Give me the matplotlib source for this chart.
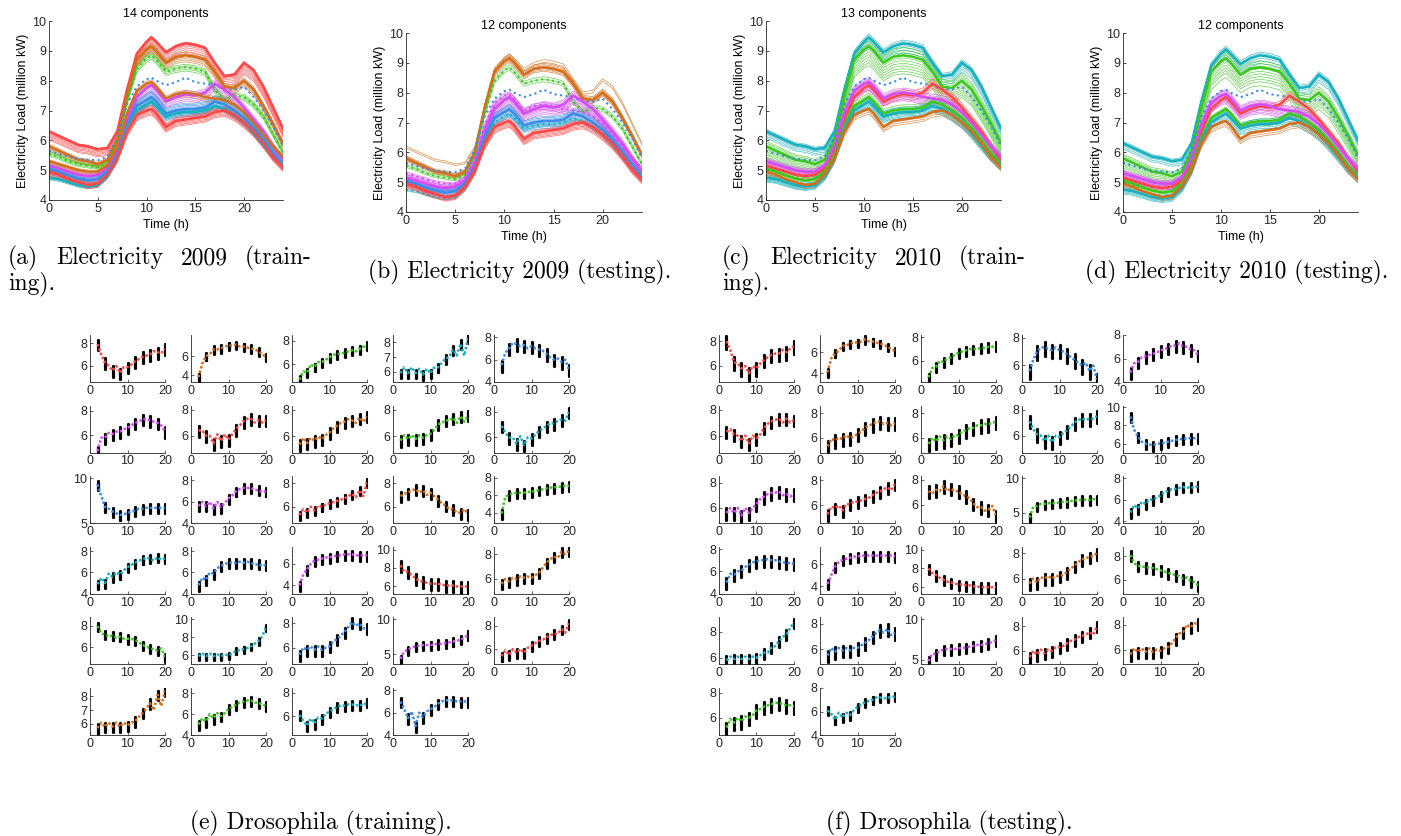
import matplotlib
matplotlib.use("Agg")
import matplotlib.pyplot as plt

plt.rcParams.update({
    "font.family": ["Liberation Sans", "DejaVu Sans"],
    "axes.linewidth": 0.6,
    "axes.spines.top": False,
    "axes.spines.right": False,
    "axes.edgecolor": "#262626",
    "xtick.color": "#262626",
    "ytick.color": "#262626",
    "xtick.direction": "in",
    "ytick.direction": "in",
})

W, H = 1401, 836

COLORS = {"red": "#FF4747", "orange": "#D2701E", "green": "#3CC71E",
          "blue": "#3A8DE6", "magenta": "#D64CF4", "cyan": "#19B0BF"}

# ---------------- electricity load profiles (million kW) ----------------
HOURS = [0, 1, 2, 3, 4, 5, 6, 7, 8, 9, 10, 10.5, 11, 12, 13, 14, 15, 16, 17, 18, 19, 20, 21, 22, 23, 24]

P_TOP = [6.3, 6.15, 6.0, 5.85, 5.8, 5.7, 5.75, 6.3, 7.7, 8.9, 9.3, 9.45, 9.3, 8.95, 9.15, 9.25, 9.2, 9.1,
         8.6, 8.15, 8.2, 8.6, 8.35, 7.8, 7.1, 6.4]
P_HIGH = [5.8, 5.65, 5.5, 5.35, 5.3, 5.2, 5.35, 6.0, 7.5, 8.7, 9.05, 9.15, 9.0, 8.6, 8.8, 8.85, 8.8, 8.7,
          8.3, 7.8, 7.75, 8.0, 7.7, 7.15, 6.55, 5.9]
P_GREEN = [5.55, 5.45, 5.3, 5.2, 5.15, 5.1, 5.25, 5.9, 7.3, 8.4, 8.75, 8.85, 8.7, 8.3, 8.4, 8.45, 8.4, 8.3,
           7.7, 7.35, 7.5, 7.45, 7.2, 6.8, 6.2, 5.6]
P_MEAN = [5.65, 5.55, 5.45, 5.38, 5.35, 5.33, 5.45, 6.1, 7.2, 7.8, 8.05, 8.1, 8.0, 7.85, 7.95, 8.1, 7.95,
          7.9, 7.85, 7.7, 7.7, 7.8, 7.45, 7.0, 6.45, 5.8]
P_MAG = [5.15, 5.05, 4.95, 4.85, 4.8, 4.85, 5.05, 5.6, 6.7, 7.45, 7.75, 7.85, 7.7, 7.3, 7.45, 7.55, 7.5,
         7.6, 7.9, 7.7, 7.45, 7.1, 6.7, 6.3, 5.8, 5.35]
P_MID = [5.3, 5.2, 5.1, 5.0, 4.95, 4.95, 5.15, 5.8, 6.9, 7.65, 7.9, 7.95, 7.8, 7.4, 7.55, 7.6, 7.55, 7.45,
         7.4, 7.35, 7.2, 6.95, 6.6, 6.2, 5.8, 5.45]
P_LOW = [5.05, 4.95, 4.82, 4.72, 4.65, 4.7, 4.95, 5.5, 6.5, 7.15, 7.35, 7.45, 7.3, 6.9, 7.0, 7.05, 7.05,
         7.1, 7.3, 7.2, 7.0, 6.75, 6.4, 6.0, 5.55, 5.2]
P_TEAL = [4.75, 4.7, 4.6, 4.5, 4.45, 4.5, 4.8, 5.4, 6.4, 7.0, 7.2, 7.3, 7.15, 6.8, 6.9, 6.95, 6.95, 7.0,
          7.15, 7.05, 6.85, 6.6, 6.25, 5.85, 5.45, 5.15]
P_BOTTOM = [4.95, 4.85, 4.7, 4.6, 4.5, 4.55, 4.85, 5.4, 6.3, 6.85, 7.0, 7.05, 6.9, 6.45, 6.65, 6.7, 6.75,
            6.8, 6.95, 7.0, 6.85, 6.6, 6.3, 5.9, 5.45, 5.1]

# per panel: cluster profiles, cluster colours, member scale factors
A_PROFILES = [P_TOP, P_HIGH, P_GREEN, P_MEAN, P_MAG, P_MID, P_LOW, P_TEAL, P_BOTTOM]
A_COLORS = ["red", "orange", "green", "blue", "magenta", "orange", "blue", "cyan", "red"]
A_SCALES = [[0.955, 0.962, 0.97, 0.977, 0.984, 0.99, 0.995, 1.0, 1.005],
            [0.975, 0.982, 0.988, 0.994, 1.0, 1.006, 1.012],
            [0.985, 0.992, 1.0, 1.006, 1.012],
            [],
            [0.97, 0.978, 0.986, 0.994, 1.0, 1.008, 1.016],
            [0.982, 0.99, 1.0, 1.01],
            [0.965, 0.972, 0.978, 0.984, 0.99, 0.995, 1.0, 1.005, 1.01, 1.016, 1.022, 1.028],
            [0.985, 0.992, 1.0, 1.008],
            [0.972, 0.978, 0.984, 0.99, 0.995, 1.0, 1.006, 1.012, 1.018]]

B_PROFILES = [P_TOP, P_HIGH, P_GREEN, P_MEAN, P_MAG, P_MID, P_LOW, P_TEAL, P_BOTTOM]
B_COLORS = ["orange", "orange", "green", "blue", "magenta", "magenta", "blue", "cyan", "red"]
B_SCALES = [[0.975, 0.985],
            [0.985, 0.99, 0.995, 1.0, 1.005, 1.01, 1.015],
            [0.99, 1.0, 1.01],
            [],
            [0.965, 0.972, 0.98, 0.986, 0.992, 1.0, 1.006, 1.012, 1.02],
            [0.98, 0.99, 1.0, 1.01],
            [0.965, 0.972, 0.978, 0.984, 0.99, 0.995, 1.0, 1.005, 1.01, 1.016, 1.022],
            [0.99, 1.0],
            [0.97, 0.976, 0.982, 0.988, 0.994, 1.0, 1.006, 1.012]]

C_PROFILES = [P_TOP, P_HIGH, P_MEAN, P_MAG, P_MID, P_LOW, P_TEAL, P_BOTTOM]
C_COLORS = ["cyan", "green", "blue", "red", "magenta", "green", "cyan", "orange"]
C_SCALES = [[0.965, 0.975, 0.985, 0.992, 1.0, 1.006, 1.012],
            [0.93, 0.94, 0.95, 0.96, 0.97, 0.98, 0.99, 1.0, 1.01, 1.02, 1.03],
            [],
            [0.98, 0.99, 1.0, 1.01, 1.02],
            [0.965, 0.972, 0.98, 0.986, 0.992, 1.0, 1.006, 1.012, 1.02],
            [0.98, 0.99, 1.0, 1.01, 1.02],
            [0.97, 0.976, 0.982, 0.988, 0.994, 1.0, 1.006, 1.012, 1.018, 1.024],
            [0.975, 0.985, 0.995, 1.005]]

D_PROFILES = [P_TOP, P_HIGH, P_MEAN, P_MAG, P_MID, P_LOW, P_TEAL, P_BOTTOM]
D_COLORS = ["cyan", "green", "blue", "red", "magenta", "green", "cyan", "orange"]
D_SCALES = [[0.97, 0.98, 0.99, 1.0, 1.006, 1.012],
            [0.93, 0.945, 0.955, 0.965, 0.975, 0.985, 0.995, 1.005, 1.015, 1.025],
            [],
            [0.985, 0.995, 1.005, 1.015],
            [0.96, 0.967, 0.974, 0.98, 0.986, 0.992, 0.997, 1.0, 1.004, 1.008, 1.014, 1.02],
            [0.98, 0.99, 1.0, 1.01],
            [0.97, 0.978, 0.986, 0.994, 1.0, 1.008, 1.016, 1.024],
            [0.975, 0.985, 0.995, 1.005]]

A_MEAN_STYLE = ["-", "-", ":", ":", "-", "-", "-", "-", "-"]
B_MEAN_STYLE = [None, "-", ":", ":", "-", ":", "-", ":", "-"]
C_MEAN_STYLE = ["-", "-", ":", "-", "-", "-", "-", "-"]
D_MEAN_STYLE = ["-", "-", ":", "-", "-", "-", "-", "-"]

# ---------------- drosophila expression panels ----------------
FLY_T = list(range(2, 21))
FLY_T_EVEN = list(range(2, 21, 2))
COLUMN_OFFSETS = [-1.0, -0.82, -0.66, -0.5, -0.36, -0.22, -0.1, 0.02, 0.15, 0.3, 0.48, 0.68]

E_COLOR = ["red", "orange", "green", "cyan", "blue",
           "magenta", "red", "orange", "green", "cyan",
           "blue", "magenta", "red", "orange", "green",
           "cyan", "blue", "magenta", "red", "orange",
           "green", "cyan", "blue", "magenta", "red",
           "orange", "green", "cyan", "blue"]
E_FIT = [
    [7.9, 7.0, 6.3, 6.0, 5.6, 6.0, 5.4, 5.9, 5.9, 6.1, 6.4, 6.6, 6.8, 6.9, 7.0, 7.3, 7.2, 7.1, 7.5],
    [3.8, 5.2, 6.0, 6.2, 6.7, 6.7, 6.8, 7.0, 7.1, 7.1, 7.2, 7.0, 7.0, 6.9, 6.8, 6.7, 6.5, 6.2, 5.9],
    [4.7, 5.4, 5.3, 6.0, 5.8, 6.2, 6.2, 6.4, 6.6, 6.8, 6.9, 6.9, 7.0, 7.1, 7.2, 7.1, 7.3, 7.5, 7.6],
    [5.9, 6.3, 5.9, 6.3, 5.9, 6.2, 5.8, 6.2, 5.9, 6.3, 6.3, 6.6, 6.9, 7.0, 7.5, 7.1, 7.9, 7.1, 8.3],
    [5.5, 6.6, 7.0, 7.5, 7.4, 7.2, 7.3, 7.0, 7.2, 7.0, 6.9, 6.8, 6.5, 6.2, 6.0, 6.1, 5.8, 6.0, 5.1],
    [4.7, 5.8, 5.8, 6.2, 6.1, 6.3, 6.3, 6.5, 6.6, 6.8, 7.0, 7.1, 7.3, 7.3, 7.2, 7.1, 7.0, 6.8, 6.3],
    [6.4, 6.4, 6.0, 6.0, 5.4, 6.1, 5.6, 6.1, 5.7, 6.1, 6.5, 6.8, 7.1, 7.3, 7.3, 7.0, 7.2, 7.0, 7.2],
    [5.4, 5.9, 5.5, 5.9, 5.7, 6.0, 5.8, 6.1, 6.3, 6.6, 6.8, 7.0, 7.1, 7.3, 7.2, 7.0, 7.4, 7.1, 7.5],
    [5.7, 6.1, 5.8, 6.1, 5.8, 6.1, 5.9, 6.1, 6.2, 6.5, 6.9, 7.0, 7.2, 7.2, 7.4, 7.0, 7.5, 7.1, 7.6],
    [6.9, 6.4, 6.0, 6.0, 5.5, 6.1, 5.4, 6.0, 5.9, 6.2, 6.5, 6.7, 6.9, 7.1, 7.1, 7.3, 7.4, 7.3, 8.0],
    [9.3, 8.0, 6.8, 6.6, 6.3, 6.1, 5.9, 6.0, 6.1, 6.3, 6.4, 6.6, 6.6, 6.7, 6.7, 6.7, 6.7, 6.7, 6.7],
    [5.6, 6.0, 5.6, 6.0, 5.4, 6.0, 5.5, 5.9, 6.3, 6.6, 7.0, 7.2, 7.3, 7.3, 7.3, 7.1, 7.1, 6.9, 7.0],
    [5.3, 5.8, 5.5, 6.0, 5.7, 6.1, 6.0, 6.2, 6.3, 6.4, 6.5, 6.6, 6.7, 6.9, 7.1, 6.8, 7.4, 6.9, 8.1],
    [6.9, 7.1, 7.2, 7.4, 7.5, 7.2, 7.4, 7.0, 7.2, 6.9, 6.6, 6.3, 6.1, 5.8, 5.8, 5.5, 5.5, 5.8, 5.4],
    [3.9, 5.8, 6.1, 6.2, 6.3, 6.3, 6.3, 6.4, 6.4, 6.5, 6.6, 6.7, 6.8, 6.9, 6.9, 7.0, 7.0, 7.1, 7.1],
    [4.9, 5.5, 5.0, 5.9, 5.6, 6.0, 5.8, 6.2, 6.5, 6.7, 6.9, 7.1, 7.2, 7.4, 7.3, 7.1, 7.4, 7.2, 7.3],
    [4.8, 5.5, 5.3, 6.0, 5.9, 6.4, 6.6, 6.8, 6.9, 6.9, 6.9, 7.0, 6.9, 7.0, 6.9, 6.7, 6.8, 6.6, 6.7],
    [4.0, 5.0, 5.5, 6.0, 6.3, 6.4, 6.5, 6.6, 6.6, 6.7, 6.8, 6.8, 6.9, 6.9, 6.9, 6.8, 6.8, 6.8, 6.8],
    [8.3, 7.6, 7.6, 7.2, 6.9, 6.6, 6.5, 6.4, 6.3, 6.3, 6.3, 6.2, 6.1, 6.1, 6.1, 6.0, 6.0, 6.0, 6.0],
    [5.6, 6.0, 5.8, 6.1, 6.0, 6.2, 6.1, 6.2, 6.1, 6.3, 6.5, 6.9, 7.3, 7.6, 7.8, 7.7, 8.2, 8.0, 8.3],
    [8.0, 7.3, 7.2, 7.0, 7.1, 6.9, 7.0, 6.8, 6.8, 6.8, 6.7, 6.5, 6.2, 6.1, 5.9, 5.8, 5.7, 5.9, 5.1],
    [5.9, 6.2, 5.9, 6.2, 5.9, 6.1, 5.9, 6.1, 6.0, 6.2, 6.5, 6.6, 6.7, 6.8, 7.0, 7.3, 7.6, 8.1, 9.1],
    [5.4, 6.0, 5.8, 6.1, 5.8, 6.1, 5.8, 6.0, 6.1, 6.5, 6.7, 7.0, 7.3, 7.7, 8.1, 7.8, 8.0, 7.6, 7.6],
    [4.3, 5.4, 5.6, 6.0, 6.1, 6.2, 6.3, 6.3, 6.3, 6.4, 6.5, 6.5, 6.6, 6.7, 6.8, 6.9, 7.1, 7.3, 7.8],
    [5.4, 5.9, 5.5, 6.0, 5.7, 6.0, 5.7, 6.1, 6.3, 6.5, 6.7, 6.8, 7.0, 7.2, 7.3, 7.3, 7.7, 7.4, 8.2],
    [5.7, 6.1, 5.8, 6.1, 5.8, 6.1, 5.8, 6.1, 5.9, 6.1, 6.2, 6.5, 6.8, 7.1, 7.5, 7.0, 8.1, 7.3, 8.4],
    [5.0, 5.6, 5.3, 6.0, 5.6, 6.1, 5.8, 6.1, 6.5, 6.7, 6.9, 7.1, 7.2, 7.3, 7.3, 7.1, 7.1, 6.9, 6.8],
    [6.1, 5.6, 5.2, 5.8, 5.4, 5.9, 5.8, 6.2, 6.4, 6.6, 6.8, 6.9, 6.9, 7.0, 7.0, 6.9, 7.0, 6.9, 7.2],
    [7.0, 6.3, 5.5, 6.1, 4.8, 6.0, 5.6, 6.1, 6.3, 6.5, 6.8, 7.0, 7.1, 7.1, 7.1, 7.0, 7.0, 7.0, 7.0],
]
E_YLIM = [(4.6, 8.7), (3.3, 8.2), (4.5, 8.5), (5.3, 8.5), (4.0, 8.2),
          (4.6, 8.4), (4.7, 8.3), (4.8, 8.3), (4.8, 8.3), (4.8, 8.5),
          (5.0, 10.2), (4.0, 8.4), (4.6, 8.6), (4.6, 8.6), (2.8, 8.2),
          (4.0, 8.4), (4.0, 8.4), (3.2, 7.6), (5.2, 10.3), (4.8, 8.6),
          (4.4, 8.8), (5.0, 10.2), (4.6, 8.5), (3.5, 10.3), (4.7, 8.7),
          (5.2, 8.6), (4.0, 8.5), (4.4, 8.4), (4.0, 8.2)]
E_YTICKS = [[6, 8], [4, 6], [6, 8], [6, 7, 8], [4, 6, 8],
            [6, 8], [6, 8], [6, 8], [6, 8], [6, 8],
            [5, 10], [4, 6, 8], [6, 8], [6, 8], [4, 6, 8],
            [4, 6, 8], [4, 6, 8], [4, 6], [6, 8, 10], [6, 8],
            [6, 8], [6, 8, 10], [6, 8], [5, 10], [6, 8],
            [6, 7, 8], [4, 6, 8], [6, 8], [4, 6, 8]]
E_SPREAD = [0.55, 0.45, 0.4, 0.35, 0.6, 0.5, 0.5, 0.45, 0.45, 0.5,
            0.6, 0.5, 0.4, 0.5, 0.6, 0.45, 0.5, 0.5, 0.7, 0.45,
            0.45, 0.4, 0.5, 0.7, 0.45, 0.4, 0.5, 0.45, 0.5]

F_COLOR = ["red", "orange", "green", "blue", "magenta",
           "red", "orange", "green", "cyan", "blue",
           "magenta", "red", "orange", "green", "cyan",
           "blue", "magenta", "red", "orange", "green",
           "cyan", "blue", "magenta", "red", "orange",
           "green", "cyan"]
F_FIT = [
    [8.0, 7.3, 6.3, 6.2, 5.8, 6.0, 5.4, 6.0, 5.8, 6.2, 6.5, 6.7, 6.9, 7.0, 7.0, 7.3, 7.1, 7.4, 7.6],
    [4.1, 5.4, 5.9, 6.1, 6.6, 6.6, 6.8, 6.9, 6.9, 7.0, 7.2, 7.0, 7.0, 6.9, 6.8, 6.7, 6.5, 6.3, 6.1],
    [4.6, 5.4, 5.5, 6.0, 5.9, 6.2, 6.3, 6.5, 6.7, 6.8, 6.9, 7.0, 7.0, 7.0, 7.1, 7.1, 7.2, 7.2, 7.3],
    [5.6, 6.4, 7.0, 7.3, 7.3, 7.2, 7.1, 7.3, 7.1, 7.0, 6.8, 6.6, 6.4, 6.2, 6.0, 6.2, 5.6, 6.0, 5.0],
    [4.8, 5.6, 5.7, 6.1, 6.2, 6.3, 6.4, 6.5, 6.7, 6.8, 6.9, 7.1, 7.1, 7.3, 7.0, 7.0, 6.8, 6.7, 6.3],
    [6.3, 6.5, 6.1, 6.0, 5.6, 6.0, 5.4, 6.0, 5.8, 6.1, 6.6, 6.9, 7.1, 7.2, 7.3, 7.0, 7.3, 7.0, 7.2],
    [5.3, 5.9, 5.8, 6.0, 5.9, 6.2, 6.0, 6.1, 6.3, 6.5, 6.8, 7.0, 7.1, 7.3, 7.3, 7.1, 7.2, 7.0, 7.2],
    [5.5, 6.0, 5.7, 6.1, 5.8, 6.1, 5.9, 6.2, 6.2, 6.5, 6.6, 6.8, 6.8, 7.0, 7.0, 7.1, 7.1, 7.2, 7.3],
    [7.1, 6.5, 6.1, 6.0, 5.6, 6.0, 5.5, 6.0, 5.9, 6.2, 6.4, 6.7, 7.0, 7.2, 7.3, 7.2, 7.3, 7.3, 7.5],
    [9.0, 7.5, 6.8, 6.2, 6.0, 5.9, 5.8, 6.0, 6.0, 6.1, 6.2, 6.3, 6.4, 6.5, 6.5, 6.6, 6.6, 6.6, 6.7],
    [5.6, 6.0, 5.6, 6.0, 5.4, 6.0, 5.6, 6.0, 6.3, 6.7, 6.9, 7.1, 7.2, 7.2, 7.3, 7.0, 7.1, 6.9, 7.1],
    [5.3, 5.9, 5.8, 6.0, 5.6, 6.1, 6.1, 6.3, 6.3, 6.4, 6.5, 6.6, 6.8, 7.0, 7.1, 7.3, 7.4, 7.2, 7.7],
    [7.1, 6.9, 7.2, 7.1, 7.5, 7.1, 7.3, 7.1, 7.1, 6.8, 6.7, 6.5, 6.1, 5.8, 5.8, 5.5, 5.6, 5.9, 5.1],
    [4.3, 5.9, 6.0, 6.3, 6.3, 6.4, 6.4, 6.4, 6.5, 6.6, 6.6, 6.7, 6.8, 6.8, 6.9, 6.9, 6.9, 7.0, 7.0],
    [4.8, 5.5, 5.2, 5.8, 5.6, 6.0, 6.0, 6.2, 6.4, 6.7, 6.8, 7.0, 7.0, 7.1, 7.2, 7.1, 7.2, 7.1, 7.3],
    [5.0, 5.8, 5.7, 6.0, 6.1, 6.4, 6.6, 6.8, 6.9, 7.0, 7.0, 7.1, 7.0, 7.0, 6.9, 6.8, 6.8, 6.7, 6.7],
    [4.2, 5.0, 5.8, 6.2, 6.4, 6.5, 6.6, 6.7, 6.7, 6.8, 6.8, 6.8, 6.8, 6.8, 6.8, 6.8, 6.8, 6.8, 6.7],
    [8.0, 7.5, 7.3, 7.0, 6.8, 6.6, 6.5, 6.4, 6.3, 6.3, 6.2, 6.2, 6.1, 6.1, 6.0, 6.0, 6.0, 6.0, 6.0],
    [5.6, 6.0, 5.7, 6.1, 6.0, 6.2, 6.0, 6.2, 6.2, 6.3, 6.5, 6.8, 7.0, 7.3, 7.5, 7.6, 7.7, 7.8, 8.0],
    [8.1, 7.4, 7.2, 7.1, 7.1, 7.0, 7.0, 6.9, 6.8, 6.7, 6.6, 6.5, 6.4, 6.3, 6.1, 6.2, 5.9, 5.8, 5.5],
    [5.8, 6.1, 5.9, 6.1, 5.9, 6.1, 5.9, 6.1, 6.0, 6.2, 6.4, 6.4, 6.8, 6.9, 7.3, 7.6, 7.8, 8.3, 8.7],
    [5.5, 6.1, 5.8, 6.1, 5.9, 6.1, 5.9, 6.1, 6.1, 6.3, 6.5, 6.7, 7.0, 7.3, 7.5, 7.3, 7.6, 7.1, 7.3],
    [4.8, 5.7, 5.7, 6.1, 6.2, 6.3, 6.3, 6.3, 6.4, 6.4, 6.5, 6.6, 6.7, 6.8, 6.8, 6.9, 7.0, 7.2, 7.4],
    [5.5, 6.0, 5.7, 6.1, 5.8, 6.1, 6.0, 6.3, 6.3, 6.4, 6.6, 6.8, 6.9, 7.1, 7.2, 7.3, 7.5, 7.3, 8.0],
    [5.6, 6.1, 5.8, 6.1, 5.8, 6.1, 5.8, 6.0, 5.9, 6.1, 6.2, 6.5, 6.9, 7.3, 7.4, 8.0, 7.8, 8.1, 8.1],
    [5.2, 5.9, 5.6, 6.0, 5.7, 6.1, 6.0, 6.2, 6.6, 6.7, 6.9, 7.0, 7.1, 7.2, 7.2, 7.1, 7.0, 7.0, 6.9],
    [6.1, 5.8, 5.3, 5.9, 5.5, 5.9, 5.7, 6.1, 6.4, 6.6, 6.8, 6.9, 7.0, 7.2, 7.2, 7.1, 7.2, 7.2, 7.3],
]
F_YLIM = [(4.7, 8.5), (3.2, 7.6), (4.2, 8.2), (4.8, 8.2), (4.0, 8.0),
          (4.7, 8.3), (4.8, 8.6), (4.8, 8.6), (4.7, 8.3), (5.0, 10.2),
          (4.8, 8.5), (4.6, 8.3), (4.5, 8.3), (3.5, 10.3), (3.8, 8.2),
          (4.0, 8.2), (3.3, 7.6), (5.3, 10.3), (4.8, 8.5), (4.8, 8.8),
          (5.5, 9.1), (4.8, 8.5), (4.4, 10.2), (4.9, 8.7), (4.8, 8.6),
          (4.6, 8.4), (4.0, 8.0)]
F_YTICKS = [[6, 8], [4, 6], [6, 8], [6, 8], [4, 6, 8],
            [6, 8], [6, 8], [6, 8], [6, 8], [6, 8, 10],
            [6, 8], [6, 8], [6, 8], [5, 10], [4, 6, 8],
            [4, 6, 8], [4, 6], [6, 8, 10], [6, 8], [6, 8],
            [6, 8], [6, 8], [5, 10], [6, 8], [6, 8],
            [6, 8], [4, 6, 8]]
F_SPREAD = [0.6, 0.4, 0.45, 0.6, 0.55, 0.5, 0.6, 0.6, 0.55, 0.6,
            0.55, 0.5, 0.55, 0.7, 0.5, 0.6, 0.5, 0.6, 0.5, 0.5,
            0.45, 0.55, 0.7, 0.5, 0.5, 0.6, 0.4]

fig = plt.figure(figsize=(W / 100, H / 100), dpi=100)


def px_axes(left, top, right, bottom):
    return fig.add_axes([left / W, 1 - bottom / H, (right - left) / W, (bottom - top) / H])


def load_panel(rect, title, profiles, colors, scales, mean_styles):
    ax = px_axes(*rect)
    for prof, col, sc in zip(profiles, colors, scales):
        for s in sc:
            ax.plot(HOURS, [v * s for v in prof], color=COLORS[col], lw=0.5, alpha=0.8)
    for prof, col, st in zip(profiles, colors, mean_styles):
        if st is None:
            continue
        ax.plot(HOURS, prof, color=COLORS[col], lw=1.8 if st == "-" else 1.5, ls=st)
    ax.set_xlim(0, 24)
    ax.set_ylim(4, 10)
    ax.set_xticks([0, 5, 10, 15, 20])
    ax.set_yticks([4, 5, 6, 7, 8, 9, 10])
    ax.tick_params(labelsize=9, length=2.5, width=0.6, pad=2)
    ax.set_xlabel("Time (h)", fontsize=9, labelpad=3)
    ax.set_ylabel("Electricity Load (million kW)", fontsize=9, labelpad=2)
    ax.set_title(title, fontsize=9, pad=3)


load_panel((49, 21, 283, 200), "14 components", A_PROFILES, A_COLORS, A_SCALES, A_MEAN_STYLE)
load_panel((406, 33, 642, 212), "12 components", B_PROFILES, B_COLORS, B_SCALES, B_MEAN_STYLE)
load_panel((766, 21, 1001, 200), "13 components", C_PROFILES, C_COLORS, C_SCALES, C_MEAN_STYLE)
load_panel((1123, 33, 1358, 212), "12 components", D_PROFILES, D_COLORS, D_SCALES, D_MEAN_STYLE)


def fly_grid(x0, colors, fits, ylims, yticks, spreads):
    for i, (col, fit, yl, yt, sp) in enumerate(zip(colors, fits, ylims, yticks, spreads)):
        r, c = divmod(i, 5)
        left = x0 + c * 101
        bottom = 382 + r * 70.6
        ax = px_axes(left, bottom - 47, left + 75, bottom)
        evens = fit[::2]
        for t, m in zip(FLY_T_EVEN, evens):
            ax.plot([t] * len(COLUMN_OFFSETS), [m + sp * o for o in COLUMN_OFFSETS],
                    ls="none", marker=".", ms=2.6, color="black", zorder=2)
        ax.plot(FLY_T, fit, color=COLORS[col], lw=1.8, ls=(0, (1, 0.8)), zorder=3)
        ax.set_xlim(0, 20)
        ax.set_ylim(*yl)
        ax.set_xticks([0, 10, 20])
        ax.set_yticks(yt)
        ax.tick_params(labelsize=9, length=2, width=0.5, pad=2)


fly_grid(90, E_COLOR, E_FIT, E_YLIM, E_YTICKS, E_SPREAD)
fly_grid(719, F_COLOR, F_FIT, F_YLIM, F_YTICKS, F_SPREAD)

# ---------------- captions ----------------
CAP = dict(fontsize=17, family="cmr10", va="center")


def fx(x):
    return x / W


def fy(y):
    return 1 - y / H


# justified two-line captions for (a) and (c)
for x0, tag, year in [(8, "(a)", "2009"), (722, "(c)", "2010")]:
    fig.text(fx(x0), fy(258), tag, ha="left", **CAP)
    fig.text(fx(x0 + 48), fy(258), "Electricity", ha="left", **CAP)
    fig.text(fx(x0 + 173), fy(258), year, ha="left", **CAP)
    fig.text(fx(x0 + 304), fy(258), "(train-", ha="right", **CAP)
    fig.text(fx(x0), fy(284), "ing).", ha="left", **CAP)
fig.text(fx(368), fy(272), "(b) Electricity 2009 (testing).", ha="left", **CAP)
fig.text(fx(1085), fy(272), "(d) Electricity 2010 (testing).", ha="left", **CAP)
fig.text(fx(190), fy(823), "(e) Drosophila (training).", ha="left", **CAP)
fig.text(fx(826), fy(823), "(f) Drosophila (testing).", ha="left", **CAP)

fig.savefig("out.png", dpi=100)
